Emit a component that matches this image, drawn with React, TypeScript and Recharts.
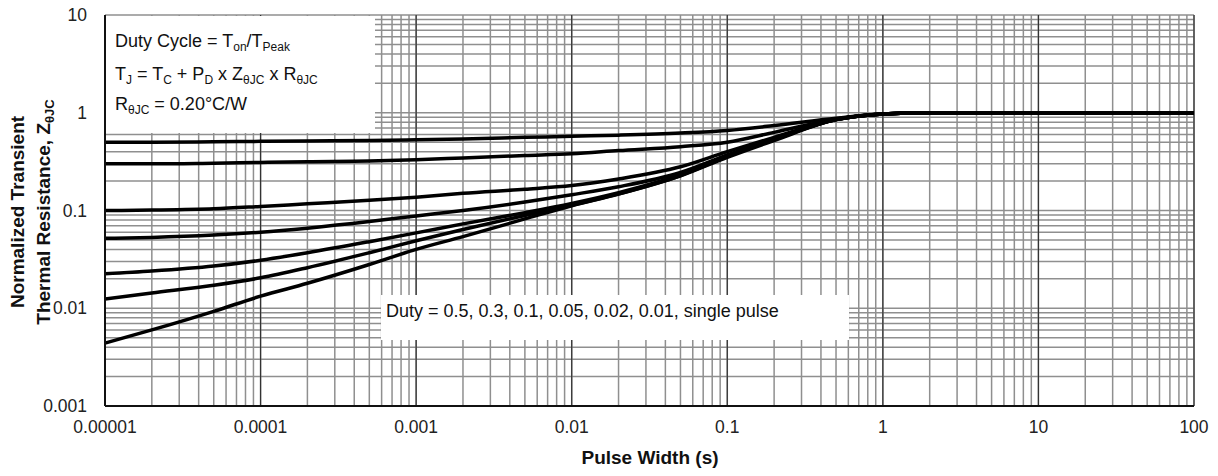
import React from 'react'
import { LineChart, Line, XAxis, YAxis, CartesianGrid, ReferenceLine } from 'recharts'

// pulse width (s)
const pulseWidth = [1e-5, 2e-5, 5e-5, 1e-4, 2e-4, 5e-4, 1e-3, 2e-3, 5e-3, 0.01, 0.02, 0.05, 0.1, 0.2, 0.5, 1, 2, 5, 10, 100]

// normalized Z per duty cycle
const duty05 = [0.5, 0.5, 0.505, 0.51, 0.515, 0.52, 0.53, 0.54, 0.56, 0.575, 0.59, 0.62, 0.66, 0.74, 0.88, 0.97, 1, 1, 1, 1]
const duty03 = [0.3, 0.3, 0.305, 0.31, 0.315, 0.32, 0.33, 0.345, 0.365, 0.38, 0.41, 0.45, 0.5, 0.63, 0.86, 0.97, 1, 1, 1, 1]
const duty01 = [0.1, 0.101, 0.104, 0.11, 0.117, 0.127, 0.137, 0.15, 0.165, 0.18, 0.21, 0.28, 0.4, 0.56, 0.85, 0.97, 1, 1, 1, 1]
const duty005 = [0.052, 0.053, 0.056, 0.06, 0.066, 0.077, 0.088, 0.1, 0.122, 0.145, 0.175, 0.245, 0.37, 0.54, 0.85, 0.97, 1, 1, 1, 1]
const duty002 = [0.0225, 0.024, 0.027, 0.031, 0.037, 0.048, 0.059, 0.073, 0.095, 0.118, 0.152, 0.232, 0.36, 0.53, 0.85, 0.97, 1, 1, 1, 1]
const duty001 = [0.0124, 0.0143, 0.0172, 0.0205, 0.026, 0.037, 0.049, 0.064, 0.089, 0.113, 0.148, 0.228, 0.355, 0.53, 0.85, 0.97, 1, 1, 1, 1]
const singlePulse = [0.0044, 0.006, 0.0093, 0.0133, 0.018, 0.028, 0.04, 0.054, 0.082, 0.112, 0.147, 0.226, 0.35, 0.52, 0.85, 0.97, 1, 1, 1, 1]

const xDecades = [1e-5, 1e-4, 1e-3, 0.01, 0.1, 1, 10, 100]
const xTickLabels = ['0.00001', '0.0001', '0.001', '0.01', '0.1', '1', '10', '100']
const yDecades = [0.001, 0.01, 0.1, 1, 10]
const yTickLabels = ['0.001', '0.01', '0.1', '1', '10']

const seriesKeys = ['d05', 'd03', 'd01', 'd005', 'd002', 'd001', 'single']

const data = pulseWidth.map((x, i) => ({
  x,
  d05: duty05[i],
  d03: duty03[i],
  d01: duty01[i],
  d005: duty005[i],
  d002: duty002[i],
  d001: duty001[i],
  single: singlePulse[i],
}))

// 1..9 within each decade, for the grid
function minorTicks(decades: number[]) {
  const out: number[] = []
  decades.forEach((d, i) => {
    if (i === decades.length - 1) { out.push(d); return }
    for (let k = 1; k <= 9; k++) out.push(Number((k * d).toPrecision(6)))
  })
  return out
}
const xTicks = minorTicks(xDecades)
const yTicks = minorTicks(yDecades)

function labelFor(v: number, decades: number[], labels: string[]) {
  const idx = decades.findIndex(d => Math.abs(Math.log10(d) - Math.log10(v)) < 1e-6)
  return idx >= 0 ? labels[idx] : null
}

const FONT = 'Arial, "Liberation Sans", sans-serif'

const XTick = (props: any) => {
  const { x, y, payload } = props
  const label = labelFor(payload.value, xDecades, xTickLabels)
  if (!label) return <g />
  return (
    <text x={x} y={y + 27} textAnchor="middle" fontSize={17.5} fontFamily={FONT} fill="#222">{label}</text>
  )
}

const YTick = (props: any) => {
  const { x, y, payload } = props
  const label = labelFor(payload.value, yDecades, yTickLabels)
  if (!label) return <g />
  return (
    <text x={x - 18} y={y + 6} textAnchor="end" fontSize={17.5} fontFamily={FONT} fill="#222">{label}</text>
  )
}

function App() {
  return (
    <div style={{ position: 'absolute', left: 0, top: 0, width: 1218, height: 476, background: '#fff' }}>
      <LineChart width={1218} height={476} data={data} margin={{ top: 15, right: 24, bottom: 40, left: 0 }}>
        <CartesianGrid stroke="#8f8f8f" strokeWidth={1.5} />
        <XAxis
          dataKey="x"
          type="number"
          scale="log"
          domain={[1e-5, 100]}
          ticks={xTicks}
          interval={0}
          allowDataOverflow
          height={30}
          tickSize={0}
          tickMargin={0}
          tick={<XTick />}
          axisLine={{ stroke: '#111', strokeWidth: 2 }}
        />
        <YAxis
          type="number"
          scale="log"
          domain={[0.001, 10]}
          ticks={yTicks}
          interval={0}
          allowDataOverflow
          width={105}
          tickSize={0}
          tickMargin={0}
          tick={<YTick />}
          axisLine={{ stroke: '#111', strokeWidth: 2 }}
        />
        {xDecades.slice(1).map(d => (
          <ReferenceLine key={d} x={d} stroke="#333" strokeWidth={1.2} />
        ))}
        {seriesKeys.map(k => (
          <Line
            key={k}
            dataKey={k}
            type="monotone"
            stroke="#000"
            strokeWidth={3.5}
            dot={false}
            isAnimationActive={false}
          />
        ))}
      </LineChart>

      <svg width={1218} height={476} style={{ position: 'absolute', left: 0, top: 0, pointerEvents: 'none' }} fontFamily={FONT}>
        <rect x={106} y={16} width={269} height={117} fill="#fff" />
        <text x={115} y={47} fontSize={18} fill="#111">
          Duty Cycle = T<tspan dy={4} fontSize={12}>on</tspan><tspan dy={-4}>/T</tspan><tspan dy={4} fontSize={12}>Peak</tspan>
        </text>
        <text x={115} y={80} fontSize={18} fill="#111">
          T<tspan dy={4} fontSize={12}>J</tspan><tspan dy={-4}> = T</tspan><tspan dy={4} fontSize={12}>C</tspan>
          <tspan dy={-4}> + P</tspan><tspan dy={4} fontSize={12}>D</tspan><tspan dy={-4}> x Z</tspan>
          <tspan dy={4} fontSize={12}>θJC</tspan><tspan dy={-4}> x R</tspan><tspan dy={4} fontSize={12}>θJC</tspan>
        </text>
        <text x={115} y={110} fontSize={18} fill="#111">
          R<tspan dy={4} fontSize={12}>θJC</tspan><tspan dy={-4}> = 0.20°C/W</tspan>
        </text>

        <rect x={381} y={295} width={468} height={45} fill="#fff" />
        <text x={386} y={317} fontSize={18} fill="#111">Duty = 0.5, 0.3, 0.1, 0.05, 0.02, 0.01, single pulse</text>

        <text x={650} y={464} fontSize={19} fontWeight="bold" textAnchor="middle" fill="#111">Pulse Width (s)</text>
        <text transform="translate(24,212) rotate(-90)" fontSize={19} fontWeight="bold" textAnchor="middle" fill="#111">Normalized Transient</text>
        <text transform="translate(50,212) rotate(-90)" fontSize={19} fontWeight="bold" textAnchor="middle" fill="#111">
          Thermal Resistance, Z<tspan dy={4} fontSize={13}>θJC</tspan>
        </text>
      </svg>
    </div>
  )
}

export default App
